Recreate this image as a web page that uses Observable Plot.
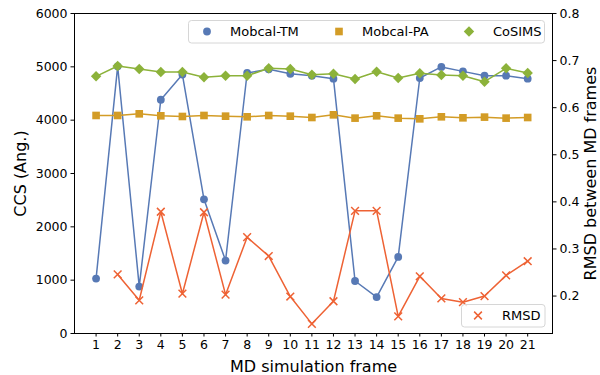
<!DOCTYPE html>
<html><head><meta charset="utf-8">
<script src="https://cdn.jsdelivr.net/npm/d3@7"></script>
<script src="https://cdn.jsdelivr.net/npm/@observablehq/plot@0.6"></script>
<style>
body{margin:0;background:#fff;}
#wrap{position:relative;width:600px;height:375px;}
#wrap svg{position:absolute;left:0;top:0;}
</style>
</head><body><div id="wrap"></div>
<script>
const frames = [1,2,3,4,5,6,7,8,9,10,11,12,13,14,15,16,17,18,19,20,21];
const mobcalTM = [1030,5010,880,4383,4855,2515,1367,4885,4955,4870,4834,4778,984,683,1435,4790,4998,4915,4834,4834,4778];
const mobcalPA = [4088,4088,4119,4082,4069,4088,4075,4063,4088,4075,4050,4100,4038,4082,4038,4025,4063,4044,4057,4038,4050];
const cosims   = [4822,5016,4960,4903,4903,4803,4834,4834,4972,4960,4853,4872,4772,4909,4790,4878,4847,4834,4721,4972,4885];
const rmsdFrames = [2,3,4,5,6,7,8,9,10,11,12,13,14,15,16,17,18,19,20,21];
const rmsd = [0.246,0.191,0.379,0.205,0.378,0.203,0.325,0.285,0.199,0.141,0.189,0.381,0.381,0.157,0.242,0.195,0.187,0.200,0.244,0.274];
const ccsTicks = [0,1000,2000,3000,4000,5000,6000];
const rmsdTicks = [0.2,0.3,0.4,0.5,0.6,0.7,0.8];
const seriesNames = ["Mobcal-TM","Mobcal-PA","CoSIMS"];
const rmsdName = "RMSD";

const colors = {tm:"#5779b5", pa:"#d39c26", co:"#8cb23a", rmsd:"#ee6234"};
const W = 600, H = 375;
const M = {left:74, right:48, top:13, bottom:42};
const xDomain = [0, 22.15];
const font = "DejaVu Sans, sans-serif";
const R = {circle:3.9, square:4.3, diamond:4.7, times:3.6};

const tmData = frames.map((f,i)=>({frame:f, v:mobcalTM[i]}));
const paData = frames.map((f,i)=>({frame:f, v:mobcalPA[i]}));
const coData = frames.map((f,i)=>({frame:f, v:cosims[i]}));
const rmData = rmsdFrames.map((f,i)=>({frame:f, v:rmsd[i]}));

const wrap = document.getElementById("wrap");

const p1 = Plot.plot({
  width:W, height:H,
  marginLeft:M.left, marginRight:M.right, marginTop:M.top, marginBottom:M.bottom,
  style:{fontFamily:font, fontSize:"12.5px", color:"black", background:"transparent", overflow:"visible"},
  x:{domain:xDomain},
  y:{domain:[0,6000]},
  marks:[
    Plot.axisX(frames, {tickSize:3.5, tickPadding:3, tickFormat:d=>String(d), label:null, fontSize:12.5}),
    Plot.axisY(ccsTicks, {tickSize:3.5, tickPadding:3.5, tickFormat:d=>String(d), label:null, fontSize:12.5}),
    Plot.line(tmData, {x:"frame", y:"v", stroke:colors.tm, strokeWidth:1.5}),
    Plot.dot(tmData, {x:"frame", y:"v", symbol:"circle", r:R.circle, fill:colors.tm}),
    Plot.line(paData, {x:"frame", y:"v", stroke:colors.pa, strokeWidth:1.5}),
    Plot.dot(paData, {x:"frame", y:"v", symbol:"square", r:R.square, fill:colors.pa}),
    Plot.line(coData, {x:"frame", y:"v", stroke:colors.co, strokeWidth:1.5}),
    Plot.dot(coData, {x:"frame", y:"v", symbol:"diamond2", r:R.diamond, fill:colors.co}),
    Plot.frame({stroke:"black", strokeWidth:1}),
    Plot.text(["CCS (Ang.)"], {frameAnchor:"left", text:d=>d, rotate:-90, dx:-54, fontSize:16, textAnchor:"middle", lineAnchor:"middle"}),
    Plot.text(["MD simulation frame"], {frameAnchor:"bottom", text:d=>d, dy:33, fontSize:16, textAnchor:"middle", lineAnchor:"middle"})
  ]
});
wrap.appendChild(p1);

const p2 = Plot.plot({
  width:W, height:H,
  marginLeft:M.left, marginRight:M.right, marginTop:M.top, marginBottom:M.bottom,
  style:{fontFamily:font, fontSize:"12.5px", color:"black", background:"transparent", overflow:"visible"},
  x:{domain:xDomain, axis:null},
  y:{domain:[0.1205,0.8]},
  marks:[
    Plot.axisY(rmsdTicks, {anchor:"right", tickSize:3.5, tickPadding:3.5, tickFormat:d3.format(".1f"), label:null, fontSize:12.5}),
    Plot.line(rmData, {x:"frame", y:"v", stroke:colors.rmsd, strokeWidth:1.5}),
    Plot.dot(rmData, {x:"frame", y:"v", symbol:"times", r:R.times, stroke:colors.rmsd, strokeWidth:1.5}),
    Plot.text(["RMSD between MD frames"], {frameAnchor:"right", text:d=>d, rotate:-90, dx:38, fontSize:16, textAnchor:"middle", lineAnchor:"middle"})
  ]
});
wrap.appendChild(p2);

// legends (matplotlib-style boxes)
const lg = d3.select(wrap).append("svg").attr("width",W).attr("height",H)
  .style("font-family",font).style("font-size","13px");
function legendBox(x,y,w,h){
  lg.append("rect").attr("x",x).attr("y",y).attr("width",w).attr("height",h).attr("rx",3)
    .attr("fill","white").attr("fill-opacity",0.8).attr("stroke","#d6d6d6").attr("stroke-width",1);
}
function sym(type, r, cx, cy, color, stroke){
  const p = lg.append("path").attr("d", d3.symbol(type, Math.PI*r*r)()).attr("transform",`translate(${cx},${cy})`);
  if (stroke) p.attr("fill","none").attr("stroke",color).attr("stroke-width",1.5);
  else p.attr("fill",color);
}
function label(txt,x,y){
  lg.append("text").attr("x",x).attr("y",y).attr("dy","0.35em").attr("fill","black").text(txt);
}
legendBox(188.5,20.5,356,22.5);
sym(d3.symbolCircle, R.circle, 207, 31.5, colors.tm);
label(seriesNames[0], 230, 31.5);
sym(d3.symbolSquare, R.square, 339, 31.5, colors.pa);
label(seriesNames[1], 362, 31.5);
sym(d3.symbolDiamond2, R.diamond, 469, 31.5, colors.co);
label(seriesNames[2], 493, 31.5);

legendBox(461.5,304.5,83.5,22.5);
sym(d3.symbolTimes, R.times, 478, 315.5, colors.rmsd, true);
label(rmsdName, 502, 315.5);
</script>
</body></html>
